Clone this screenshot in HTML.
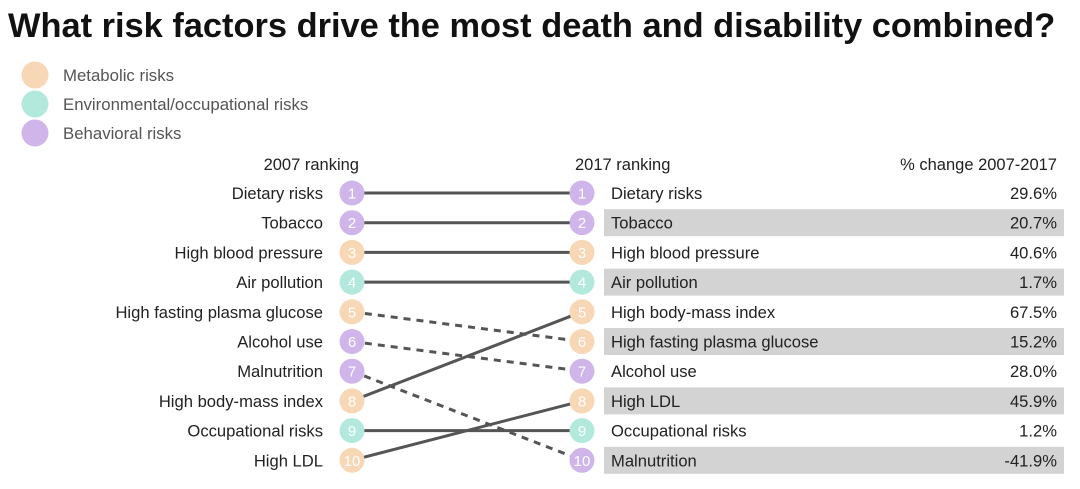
<!DOCTYPE html>
<html><head><meta charset="utf-8">
<style>
body{margin:0;background:#fff;font-family:"Liberation Sans",sans-serif;}
svg text{font-family:"Liberation Sans",sans-serif;}
</style></head>
<body>
<svg id="chart" width="1080" height="484" xmlns="http://www.w3.org/2000/svg">
<text x="8" y="37" font-size="34.4" font-weight="bold" fill="#111">What risk factors drive the most death and disability combined?</text>
<g id="legend"></g>
<text x="359" y="170" font-size="16.5" text-anchor="end" fill="#222">2007 ranking</text>
<text x="575" y="170" font-size="16.5" fill="#222">2017 ranking</text>
<text x="1057" y="170" font-size="16.5" text-anchor="end" fill="#222">% change 2007-2017</text>
<g id="bars"></g><g id="lines"></g><g id="nodes"></g>
</svg>
<script>
const names2007 = ["Dietary risks","Tobacco","High blood pressure","Air pollution","High fasting plasma glucose","Alcohol use","Malnutrition","High body-mass index","Occupational risks","High LDL"];
const cats2007 = ["b","b","m","e","m","b","b","m","e","m"];
const names2017 = ["Dietary risks","Tobacco","High blood pressure","Air pollution","High body-mass index","High fasting plasma glucose","Alcohol use","High LDL","Occupational risks","Malnutrition"];
const pctChange = [29.6,20.7,40.6,1.7,67.5,15.2,28.0,45.9,1.2,-41.9];
const legendLabels = ["Metabolic risks","Environmental/occupational risks","Behavioral risks"];
const legendCats = ["m","e","b"];

const colors={m:"#f7d7b5",e:"#b3e9dc",b:"#cfb5ea"};
const NS="http://www.w3.org/2000/svg";
const y0=193, step=29.7, xL=352, xR=582, r=12.5;
const yRank=i=>y0+i*step;
function mk(tag,attrs,parent,txt){const e=document.createElementNS(NS,tag);for(const k in attrs)e.setAttribute(k,attrs[k]);if(txt!==undefined)e.textContent=txt;parent.appendChild(e);return e;}
const lg=document.getElementById('legend');
legendLabels.forEach((l,i)=>{
  const c=mk('circle',{cx:35,cy:75+i*29,r:13.5,fill:colors[legendCats[i]]},lg);
  
  
  const t=mk('text',{x:63,y:81+i*29,'font-size':16.8,fill:'#555'},lg,l);
  
  
});
const bars=document.getElementById('bars'),lines=document.getElementById('lines'),nodes=document.getElementById('nodes');
names2017.forEach((n,i)=>{
  const y=yRank(i);
  if(i%2===1){const b=mk('rect',{x:604,y:y-13.5,width:460,height:27,fill:'#d3d3d3'},bars);
    
    }
  const t=mk('text',{x:611,y:y+6,'font-size':16.6,fill:'#222'},bars,n);
  
  
  const p=mk('text',{x:1057,y:y+6,'font-size':16.6,fill:'#222','text-anchor':'end'},bars,pctChange[i].toFixed(1)+'%');
  
  
});
names2007.forEach((n,i)=>{
  const j=names2017.indexOf(n);
  const y1=yRank(i),y2=yRank(j);
  const ln=mk('line',{x1:xL,y1:y1,x2:xR,y2:y2,stroke:'#555','stroke-width':3},lines);
  if(j>i) ln.setAttribute('stroke-dasharray','7,6');
  
  
  const t=mk('text',{x:323,y:y1+6,'font-size':16.6,fill:'#222','text-anchor':'end'},nodes,n);
  
  
  [[xL,y1,i],[xR,y2,j]].forEach(([x,y,k])=>{
    const c=mk('circle',{cx:x,cy:y,r:r,fill:colors[cats2007[i]]},nodes);
    
    
    const tt=mk('text',{x:x,y:y+5.5,'font-size':15,fill:'#fff','text-anchor':'middle'},nodes,String(k+1));
    
    
  });
});
</script>
</body></html>
